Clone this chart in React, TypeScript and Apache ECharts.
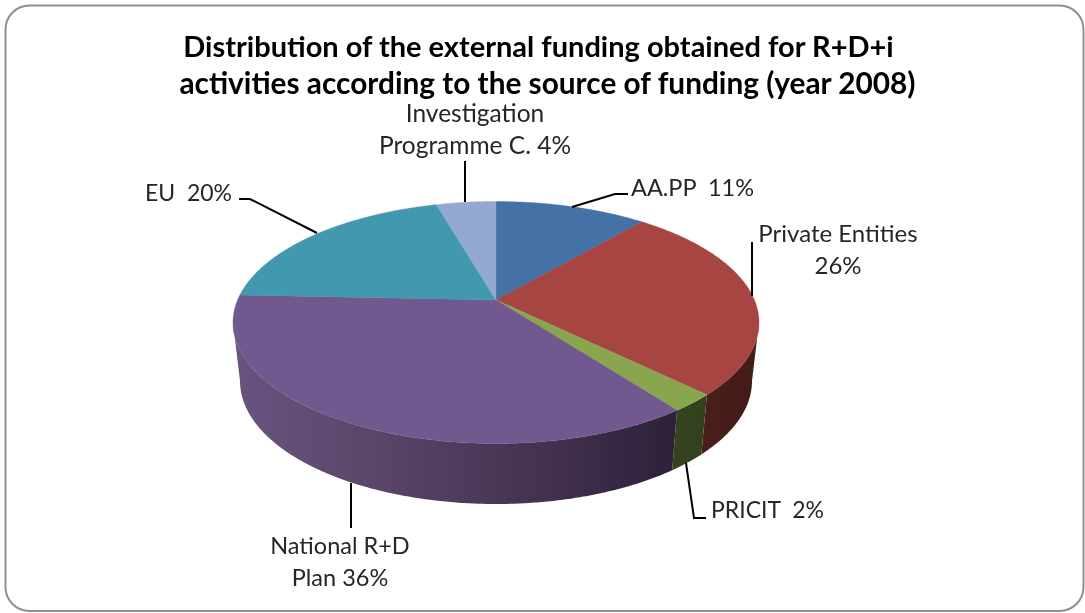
import React, { useEffect, useRef } from "react";
import * as echarts from "echarts";

const titleLines = [
  "Distribution of the external funding obtained for R+D+i",
  "activities according to the source of funding (year 2008)",
];
const categories = ["AA.PP", "Private Entities", "PRICIT", "National R+D Plan", "EU", "Investigation Programme C."];
const values = [11.2, 26.4, 2.4, 36, 20, 4.4];
const labelTexts = ["AA.PP  11%", "Private Entities\n26%", "PRICIT  2%", "National R+D\nPlan 36%", "EU  20%", "Investigation\nProgramme C. 4%"];
const topColors = ["#4472a6", "#a64542", "#89a54e", "#71588f", "#4198af", "#93a9cf"];
const wallStops: string[][] = [
  ["#2a4566", "#2a4566"],
  ["#4a1f1b", "#431b17"],
  ["#36431f", "#33401d"],
  ["#685480", "#5a4468", "#453353", "#2c2139"],
  ["#26606f", "#26606f"],
  ["#5f6f88", "#5f6f88"],
];
const labelLayout: [number, number, string, number][] = [
  [631, 187, "left", 23.5],
  [838, 248, "center", 24],
  [711, 509, "left", 23],
  [340, 561, "center", 23.5],
  [232, 192, "right", 23],
  [475, 128.5, "center", 24.5],
];
const leaderLines: number[][][] = [
  [[572, 207], [615, 194], [628, 194]],
  [[752, 242], [752, 296]],
  [[686, 463], [694, 518], [706, 518]],
  [[351, 483], [351, 528]],
  [[239, 199], [250, 199], [317, 233]],
  [[465, 161], [465, 202]],
];

const CX = 496;
const TOP_CY = 322.5;
const RX = 263;
const RY = 121;
const BOT_CY = 381;
const BOT_RX = 256;
const BOT_RY = 123;
const K = -22.5 / 121; // the apex sits above the ellipse centre (perspective)

const total = values.reduce((a, b) => a + b, 0);
const cumBefore = values.map((_, i) => values.slice(0, i).reduce((a, b) => a + b, 0));

function project(theta: number): [number, number] {
  const u = Math.sin(theta);
  const v = -Math.cos(theta);
  const d = 1 + K * v;
  return [(u * Math.sqrt(1 - K * K)) / d, (v + K) / d];
}
function sampleAngles(a: number, b: number): number[] {
  const n = Math.max(2, Math.ceil((b - a) / (Math.PI / 360)));
  const out: number[] = [];
  for (let i = 0; i <= n; i++) out.push(a + ((b - a) * i) / n);
  return out;
}
const WALL_FROM = Math.acos(K);
const WALL_TO = 2 * Math.PI - WALL_FROM;

function renderSlice(params: any, api: any) {
  const i = params.dataIndex;
  const v = api.value(0);
  const a = (cumBefore[i] / total) * 2 * Math.PI;
  const b = a + (v / total) * 2 * Math.PI;
  const children: any[] = [];
  const wa = Math.max(a, WALL_FROM);
  const wb = Math.min(b, WALL_TO);
  if (wb > wa) {
    const rim = sampleAngles(wa, wb).map(project);
    const upper = rim.map(([x, y]) => [CX + x * RX, TOP_CY + y * RY]);
    const lower = rim.map(([x, y]) => [CX + x * BOT_RX, BOT_CY + y * BOT_RY]).reverse();
    const stops = wallStops[i];
    const fill = new echarts.graphic.LinearGradient(
      0, 0, 1, 0,
      stops.map((color, s) => ({ offset: s / (stops.length - 1), color }))
    );
    children.push({
      type: "polygon",
      shape: { points: upper.concat(lower) },
      style: { fill },
    });
  }
  const top = sampleAngles(a, b).map(project).map(([x, y]) => [CX + x * RX, TOP_CY + y * RY]);
  children.push({
    type: "polygon",
    shape: { points: [[CX, TOP_CY + K * RY], ...top] },
    style: { fill: topColors[i], stroke: topColors[i], lineWidth: 0.4 },
  });
  return { type: "group", children };
}

export default function App() {
  const ref = useRef<HTMLDivElement>(null);
  useEffect(() => {
    const chart = echarts.init(ref.current!, null, { renderer: "svg" });
    const font = "Lato, sans-serif";
    chart.setOption({
      animation: false,
      backgroundColor: "#ffffff",
      title: titleLines.map((text, i) => ({
        text,
        left: i === 0 ? 533.5 : 542.5,
        top: i === 0 ? 23.5 : 60,
        textAlign: "center",
        textStyle: { fontFamily: font, fontWeight: "bold", fontSize: i === 0 ? 29 : 29.8, color: "#000000", lineHeight: 34 },
      })),
      graphic: [
        {
          type: "rect",
          z: -1,
          shape: { x: 5.5, y: 5.5, width: 1078, height: 605.5, r: 24 },
          style: { fill: "#ffffff", stroke: "#8f8f8f", lineWidth: 2 },
        },
        ...leaderLines.map((points) => ({
          type: "polyline",
          z: 3,
          shape: { points },
          style: { fill: "none", stroke: "#000000", lineWidth: 2 },
        })),
        ...labelTexts.map((text, i) => ({
          type: "text",
          z: 4,
          x: labelLayout[i][0],
          y: labelLayout[i][1],
          style: {
            text,
            font: `${labelLayout[i][3]}px ${font}`,
            fill: "#262626",
            align: labelLayout[i][2],
            verticalAlign: "middle",
            lineHeight: 32,
          },
        })),
      ],
      series: [
        {
          type: "custom",
          coordinateSystem: "none",
          silent: true,
          z: 2,
          renderItem: renderSlice,
          data: values.map((value, i) => ({ name: categories[i], value: [value] })),
        },
      ],
    });
    return () => chart.dispose();
  }, []);
  return <div ref={ref} style={{ position: "fixed", left: 0, top: 0, width: 1085, height: 613, filter: "blur(0.4px)" }} />;
}
